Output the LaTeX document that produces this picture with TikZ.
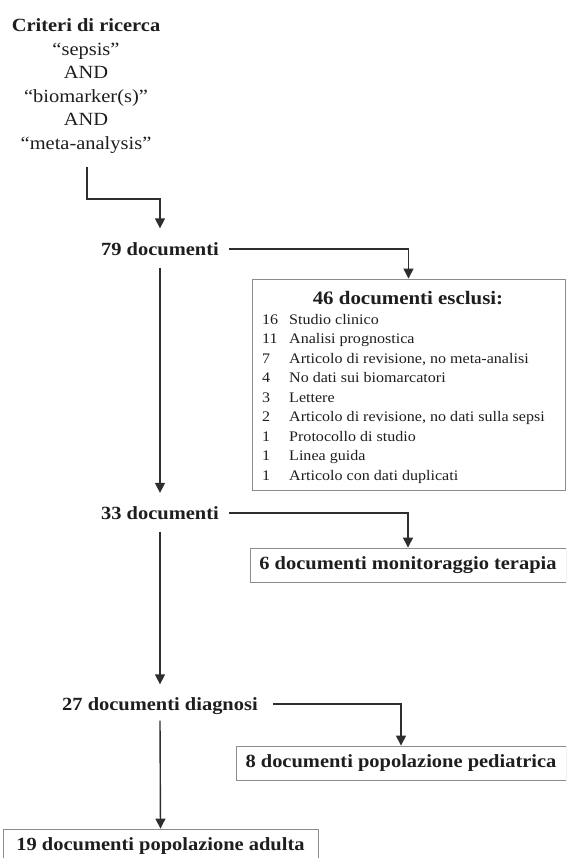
\documentclass[tikz,border=0pt]{standalone}
\usepackage{fontspec}
\setmainfont{Liberation Serif}[FakeStretch=1.1]
\usetikzlibrary{arrows.meta}
\definecolor{txt}{HTML}{1E1E1E}
\definecolor{linec}{HTML}{2E2E2E}
\definecolor{boxc}{HTML}{8C8C8C}
\begin{document}
\begin{tikzpicture}[x=1pt,y=-1pt,
  lbl/.style={font=\bfseries\fontsize{18.6}{22}\selectfont, text=txt, inner sep=0pt, text depth=0pt},
  crittext/.style={font=\fontsize{18.6}{23.6}\selectfont, text=txt, inner sep=0pt, align=center},
  boxnode/.style={draw=boxc, line width=0.9pt, font=\bfseries\fontsize{18.6}{22}\selectfont, text=txt, minimum height=34pt, inner sep=0pt},
  ttl/.style={font=\bfseries\fontsize{19}{22}\selectfont, text=txt, inner sep=0pt},
  item/.style={font=\fontsize{14.6}{17}\selectfont, text=txt, inner sep=0pt, anchor=base west},
  arr/.style={draw=linec, line width=1.4pt, -{Triangle[length=10pt,width=10pt]}}
]
\useasboundingbox (0,0) rectangle (566,858);
\clip (0,0) rectangle (566,858);
\fill[white] (0,0) rectangle (566,858);

% search criteria
\node[crittext] (crit) at (86,86) {\textbf{Criteri di ricerca}\\“sepsis”\\AND\\“biomarker(s)”\\AND\\“meta-analysis”};
\coordinate (cstart) at (87,167);

% main column
\node[lbl] (d79) at (160,249) {79 documenti};
\node[lbl] (d33) at (160,513) {33 documenti};
\node[lbl] (d27) at (160,704) {27 documenti diagnosi};

% excluded box
\node[draw=boxc, line width=0.9pt, minimum width=313pt, minimum height=211pt, inner sep=0pt] (excl) at (408.5,384.5) {};
\node[ttl] (ttl) at (408,298) {46 documenti esclusi:};
\foreach \n/\t [count=\i from 0] in {16/Studio clinico, 11/Analisi prognostica, 7/{Articolo di revisione, no meta-analisi}, 4/No dati sui biomarcatori, 3/Lettere, 2/{Articolo di revisione, no dati sulla sepsi}, 1/Protocollo di studio, 1/Linea guida, 1/Articolo con dati duplicati}{
  \node[item] (num\i) at (262,{324+19.5*\i}) {\n};
  \node[item] (itm\i) at (289,{324+19.5*\i}) {\t};
}

% other boxes
\node[boxnode, minimum width=316pt] (mon) at (408,565) {6 documenti monitoraggio terapia};
\node[boxnode, minimum width=330pt] (ped) at (401,763) {8 documenti popolazione pediatrica};
\node[boxnode, minimum width=315pt] (adu) at (160.5,846) {19 documenti popolazione adulta};

% connectors
\draw[arr] (cstart) -- ++(0,32) -| ([yshift=14pt]d79.north);
\draw[arr] ([xshift=10pt]d79.east) -| (excl.north);
\draw[arr] ([yshift=-12pt]d79.south) -- ([yshift=13.5pt]d33.north);
\draw[arr] ([xshift=10pt]d33.east) -| (mon.north);
\draw[arr] ([yshift=-12pt]d33.south) -- ([yshift=13pt]d27.north);
\draw[arr] ([xshift=15pt]d27.east) -| (ped.north);
\draw[arr] ([yshift=-10pt]d27.south) -- (adu.north);
\end{tikzpicture}
\end{document}
